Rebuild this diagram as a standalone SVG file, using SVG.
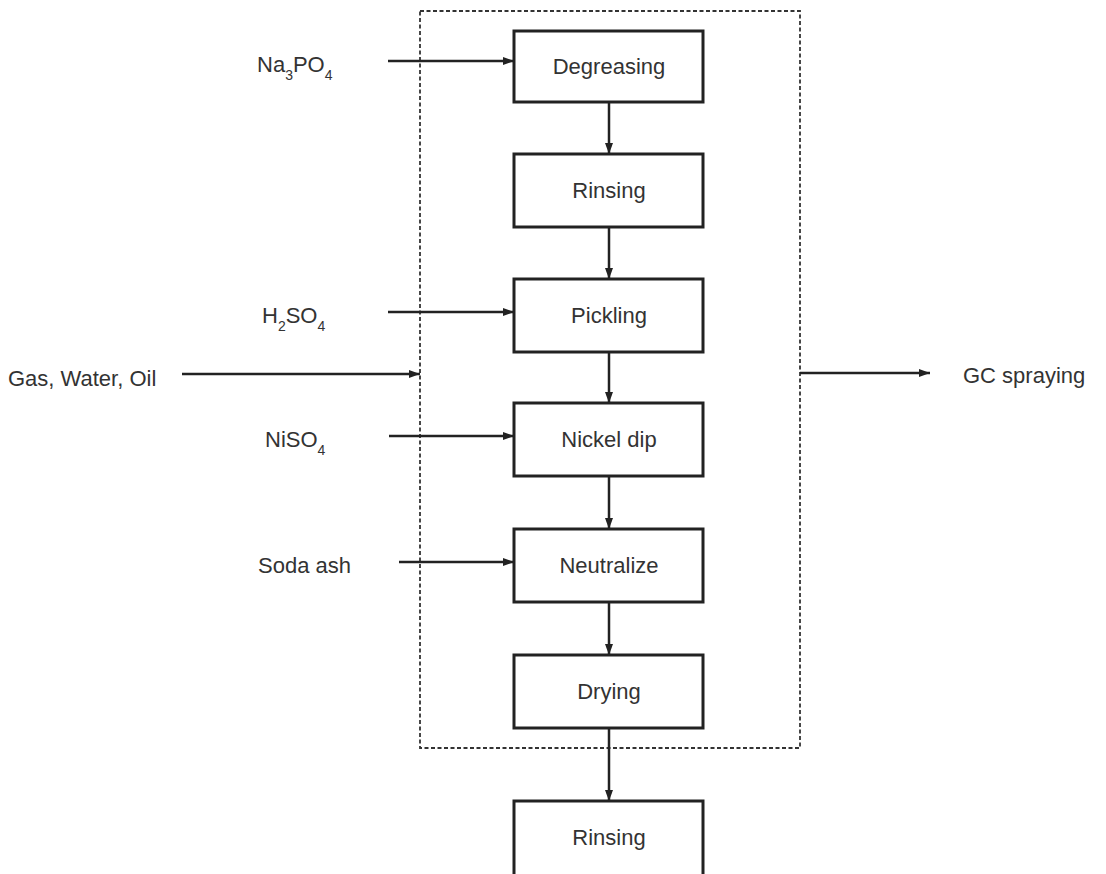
<svg xmlns="http://www.w3.org/2000/svg" width="1106" height="874" viewBox="0 0 1106 874">
<defs>
<style>
.box{fill:#fff;stroke:#222;stroke-width:3}
.lbl{font-family:"Liberation Sans",Arial,sans-serif;font-size:22px;fill:#333}
.c{text-anchor:middle}
.ln{stroke:#222;stroke-width:2.5;fill:none;marker-end:url(#ah)}
.dash{fill:none;stroke:#333;stroke-width:1.8;stroke-dasharray:4 2.5}
</style>
<marker id="ah" markerUnits="userSpaceOnUse" markerWidth="12" markerHeight="10" refX="11" refY="5" orient="auto">
<path d="M0,1 L11,5 L0,9 Z" fill="#222"/>
</marker>
</defs>
<rect width="1106" height="874" fill="#fff"/>
<rect id="boundary" class="dash" x="420" y="11" width="380" height="737"/>
<g id="connectors">
<line class="ln" x1="388" y1="61" x2="514" y2="61"/>
<line class="ln" x1="609" y1="102" x2="609" y2="154"/>
<line class="ln" x1="609" y1="227" x2="609" y2="279"/>
<line class="ln" x1="388" y1="312" x2="514" y2="312"/>
<line class="ln" x1="182" y1="374" x2="420" y2="374"/>
<line class="ln" x1="609" y1="352" x2="609" y2="403"/>
<line class="ln" x1="389" y1="436" x2="514" y2="436"/>
<line class="ln" x1="609" y1="476" x2="609" y2="529"/>
<line class="ln" x1="399" y1="562" x2="514" y2="562"/>
<line class="ln" x1="609" y1="602" x2="609" y2="655"/>
<line class="ln" x1="609" y1="728" x2="609" y2="801"/>
<line class="ln" x1="800" y1="373" x2="930" y2="373"/>
</g>
<g id="degreasing"><rect class="box" x="514" y="31" width="189" height="71"/><text class="lbl c" x="609" y="74">Degreasing</text></g>
<g id="rinsing1"><rect class="box" x="514" y="154" width="189" height="73"/><text class="lbl c" x="609" y="198">Rinsing</text></g>
<g id="pickling"><rect class="box" x="514" y="279" width="189" height="73"/><text class="lbl c" x="609" y="323">Pickling</text></g>
<g id="nickel"><rect class="box" x="514" y="403" width="189" height="73"/><text class="lbl c" x="609" y="447">Nickel dip</text></g>
<g id="neutralize"><rect class="box" x="514" y="529" width="189" height="73"/><text class="lbl c" x="609" y="573">Neutralize</text></g>
<g id="drying"><rect class="box" x="514" y="655" width="189" height="73"/><text class="lbl c" x="609" y="699">Drying</text></g>
<g id="rinsing2"><rect class="box" x="514" y="801" width="189" height="80"/><text class="lbl c" x="609" y="845">Rinsing</text></g>
<g id="na3po4"><text class="lbl" x="257" y="72">Na<tspan font-size="14" dy="8">3</tspan><tspan dy="-8">PO</tspan><tspan font-size="14" dy="8">4</tspan></text></g>
<g id="h2so4"><text class="lbl" x="262" y="323">H<tspan font-size="14" dy="8">2</tspan><tspan dy="-8">SO</tspan><tspan font-size="14" dy="8">4</tspan></text></g>
<g id="gas"><text class="lbl" x="8" y="386">Gas, Water, Oil</text></g>
<g id="niso4"><text class="lbl" x="265" y="447">NiSO<tspan font-size="14" dy="8">4</tspan></text></g>
<g id="soda"><text class="lbl" x="258" y="573">Soda ash</text></g>
<g id="gc"><text class="lbl" x="963" y="383">GC spraying</text></g>
</svg>
